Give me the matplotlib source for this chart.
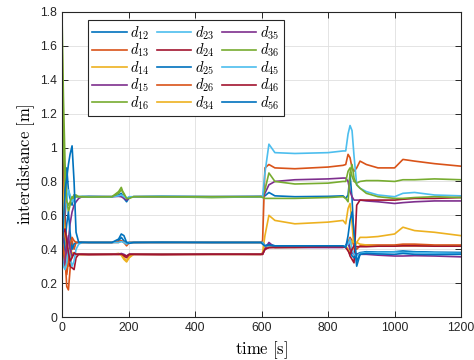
import matplotlib
matplotlib.use("Agg")
import matplotlib.pyplot as plt
import numpy as np

plt.rcParams['mathtext.fontset'] = 'cm'
plt.rcParams['font.family'] = ['Liberation Sans', 'DejaVu Sans']

# shared time knots [s]
t = [0, 4, 9, 14, 19, 24, 30, 36, 42, 50, 60, 80, 150, 170, 178, 186, 194, 202, 215, 300,
     450, 598, 603, 610, 622, 640, 700, 800, 845, 853, 860, 866, 872, 878, 886, 896, 915, 950,
     1000, 1025, 1060, 1120, 1200]

d12 = [0.55, 0.62, 0.80, 0.88, 0.75, 0.70, 0.66, 0.72, 0.71, 0.71, 0.71, 0.712, 0.71, 0.72, 0.73, 0.70,
       0.68, 0.705, 0.71, 0.712, 0.71, 0.712, 0.71, 0.715, 0.735, 0.715, 0.71, 0.712, 0.715, 0.70, 0.72,
       0.84, 0.70, 0.45, 0.30, 0.37, 0.385, 0.383, 0.385, 0.38, 0.385, 0.382, 0.38]
d13 = [1.25, 0.80, 0.35, 0.18, 0.16, 0.28, 0.45, 0.40, 0.44, 0.44, 0.44, 0.44, 0.44, 0.44, 0.45, 0.44,
       0.42, 0.44, 0.44, 0.44, 0.44, 0.44, 0.45, 0.88, 0.90, 0.88, 0.875, 0.885, 0.895, 0.90, 0.96,
       0.94, 0.88, 0.86, 0.88, 0.92, 0.90, 0.88, 0.88, 0.93, 0.92, 0.905, 0.89]
d14 = [1.60, 1.10, 0.60, 0.35, 0.30, 0.36, 0.38, 0.37, 0.37, 0.37, 0.37, 0.37, 0.37, 0.375, 0.37, 0.35,
       0.33, 0.36, 0.37, 0.37, 0.37, 0.37, 0.38, 0.48, 0.60, 0.57, 0.55, 0.56, 0.57, 0.55, 0.64,
       0.67, 0.55, 0.40, 0.44, 0.47, 0.47, 0.475, 0.49, 0.53, 0.51, 0.50, 0.48]
d15 = [0.50, 0.45, 0.40, 0.38, 0.45, 0.55, 0.62, 0.66, 0.68, 0.70, 0.71, 0.71, 0.71, 0.712, 0.71, 0.70,
       0.69, 0.705, 0.71, 0.71, 0.71, 0.71, 0.71, 0.73, 0.78, 0.80, 0.81, 0.815, 0.82, 0.82, 0.80,
       0.74, 0.71, 0.69, 0.69, 0.69, 0.685, 0.68, 0.67, 0.675, 0.68, 0.685, 0.685]
d16 = [1.75, 1.30, 0.90, 0.70, 0.62, 0.66, 0.70, 0.72, 0.72, 0.71, 0.71, 0.71, 0.71, 0.74, 0.765, 0.72,
       0.70, 0.705, 0.71, 0.71, 0.705, 0.71, 0.71, 0.75, 0.85, 0.80, 0.785, 0.79, 0.80, 0.80, 0.86,
       0.88, 0.83, 0.80, 0.79, 0.80, 0.805, 0.805, 0.80, 0.81, 0.81, 0.815, 0.81]
d23 = [0.60, 0.52, 0.60, 0.68, 0.75, 0.72, 0.68, 0.70, 0.71, 0.71, 0.712, 0.71, 0.71, 0.715, 0.72, 0.71,
       0.70, 0.71, 0.71, 0.712, 0.71, 0.71, 0.71, 0.85, 1.02, 0.97, 0.965, 0.97, 0.98, 0.98, 1.08,
       1.13, 1.10, 0.95, 0.78, 0.76, 0.74, 0.72, 0.71, 0.73, 0.735, 0.72, 0.715]
d24 = [1.20, 0.90, 0.55, 0.40, 0.33, 0.30, 0.29, 0.28, 0.35, 0.37, 0.37, 0.37, 0.37, 0.37, 0.372, 0.36,
       0.35, 0.37, 0.37, 0.37, 0.372, 0.37, 0.375, 0.40, 0.41, 0.41, 0.413, 0.415, 0.415, 0.41, 0.40,
       0.36, 0.34, 0.32, 0.66, 0.69, 0.69, 0.69, 0.69, 0.695, 0.70, 0.70, 0.705]
d25 = [0.30, 0.38, 0.45, 0.55, 0.62, 0.50, 0.40, 0.43, 0.44, 0.44, 0.443, 0.44, 0.44, 0.45, 0.47, 0.45,
       0.44, 0.44, 0.44, 0.443, 0.44, 0.44, 0.44, 0.42, 0.43, 0.42, 0.42, 0.418, 0.42, 0.42, 0.45,
       0.40, 0.36, 0.35, 0.37, 0.38, 0.385, 0.38, 0.385, 0.39, 0.385, 0.38, 0.38]
d26 = [0.45, 0.40, 0.30, 0.25, 0.33, 0.42, 0.47, 0.45, 0.44, 0.44, 0.44, 0.44, 0.44, 0.445, 0.45, 0.44,
       0.43, 0.44, 0.44, 0.44, 0.44, 0.44, 0.44, 0.42, 0.42, 0.42, 0.42, 0.42, 0.42, 0.42, 0.44,
       0.47, 0.45, 0.42, 0.40, 0.42, 0.425, 0.425, 0.425, 0.43, 0.43, 0.425, 0.425]
d34 = [0.90, 0.65, 0.50, 0.42, 0.40, 0.38, 0.36, 0.37, 0.37, 0.37, 0.368, 0.37, 0.37, 0.37, 0.365, 0.34,
       0.325, 0.35, 0.37, 0.37, 0.37, 0.37, 0.37, 0.41, 0.415, 0.41, 0.41, 0.415, 0.415, 0.42, 0.40,
       0.38, 0.45, 0.44, 0.44, 0.43, 0.425, 0.42, 0.42, 0.42, 0.42, 0.42, 0.42]
d35 = [0.35, 0.30, 0.33, 0.42, 0.48, 0.40, 0.36, 0.37, 0.37, 0.37, 0.37, 0.37, 0.37, 0.37, 0.375, 0.37,
       0.36, 0.37, 0.37, 0.37, 0.37, 0.37, 0.37, 0.40, 0.44, 0.41, 0.41, 0.41, 0.41, 0.42, 0.44,
       0.40, 0.38, 0.37, 0.37, 0.37, 0.37, 0.365, 0.36, 0.36, 0.362, 0.36, 0.355]
d36 = [1.45, 1.00, 0.75, 0.68, 0.66, 0.68, 0.71, 0.70, 0.71, 0.71, 0.71, 0.708, 0.71, 0.73, 0.75, 0.73,
       0.70, 0.70, 0.71, 0.71, 0.71, 0.71, 0.705, 0.70, 0.70, 0.70, 0.70, 0.705, 0.71, 0.70, 0.68,
       0.85, 0.90, 0.82, 0.78, 0.76, 0.73, 0.71, 0.70, 0.70, 0.705, 0.71, 0.705]
d45 = [0.35, 0.30, 0.28, 0.32, 0.40, 0.35, 0.30, 0.33, 0.40, 0.43, 0.44, 0.44, 0.44, 0.44, 0.445, 0.44,
       0.43, 0.44, 0.44, 0.44, 0.44, 0.44, 0.44, 0.42, 0.42, 0.42, 0.42, 0.42, 0.42, 0.42, 0.43,
       0.46, 0.40, 0.37, 0.36, 0.375, 0.38, 0.38, 0.383, 0.38, 0.38, 0.378, 0.375]
d46 = [0.45, 0.50, 0.52, 0.45, 0.38, 0.33, 0.35, 0.38, 0.37, 0.37, 0.37, 0.368, 0.37, 0.37, 0.37, 0.365,
       0.36, 0.37, 0.37, 0.368, 0.37, 0.37, 0.37, 0.40, 0.41, 0.412, 0.412, 0.415, 0.415, 0.41, 0.39,
       0.37, 0.40, 0.42, 0.415, 0.415, 0.415, 0.418, 0.418, 0.42, 0.42, 0.418, 0.418]
d56 = [0.40, 0.55, 0.75, 0.82, 0.90, 0.96, 1.01, 0.80, 0.50, 0.44, 0.44, 0.44, 0.44, 0.46, 0.49, 0.48,
       0.44, 0.435, 0.44, 0.44, 0.44, 0.44, 0.43, 0.42, 0.425, 0.42, 0.42, 0.42, 0.42, 0.41, 0.48,
       0.57, 0.62, 0.50, 0.33, 0.37, 0.375, 0.372, 0.37, 0.375, 0.37, 0.368, 0.37]

names = ['12', '13', '14', '15', '16', '23', '24', '25', '26', '34', '35', '36', '45', '46', '56']
series = [d12, d13, d14, d15, d16, d23, d24, d25, d26, d34, d35, d36, d45, d46, d56]

matlab = ['#0072BD', '#D95319', '#EDB120', '#7E2F8E', '#77AC30', '#4DBEEE', '#A2142F']

fig = plt.figure(figsize=(4.74, 3.6), dpi=100)
ax = fig.add_axes([0.131, 0.1194, 0.8418, 0.8473])

for i, (n, y) in enumerate(zip(names, series)):
    ax.plot(t, y, color=matlab[i % 7], lw=1.2, label=r'$d_{%s}$' % n)

ax.set_xlim(0, 1200)
ax.set_ylim(0, 1.8)
ax.set_xticks(np.arange(0, 1201, 200))
ax.set_yticks(np.arange(0, 1.81, 0.2))
ax.set_yticklabels(['0', '0.2', '0.4', '0.6', '0.8', '1', '1.2', '1.4', '1.6', '1.8'])
ax.tick_params(direction='in', top=True, right=True, length=4, width=0.7,
               labelsize=8.7, colors='#262626')
ax.grid(True, color='#dfdfdf', lw=0.6)
ax.set_axisbelow(True)
for s in ax.spines.values():
    s.set_color('#262626')
    s.set_linewidth(0.8)

ax.set_xlabel(r'$\mathrm{time\ [s]}$', fontsize=12, labelpad=4)
ax.set_ylabel(r'$\mathrm{interdistance\ [m]}$', fontsize=12, labelpad=2)

leg = ax.legend(ncol=3, loc='upper left', bbox_to_anchor=(0.065, 0.974), borderaxespad=0,
                fontsize=10.5, handlelength=2.35, handletextpad=0.25, columnspacing=0.5,
                labelspacing=0.0, borderpad=0.3, fancybox=False, framealpha=1,
                edgecolor='#262626')
leg.get_frame().set_linewidth(0.8)

fig.savefig('out.png', dpi=100)
